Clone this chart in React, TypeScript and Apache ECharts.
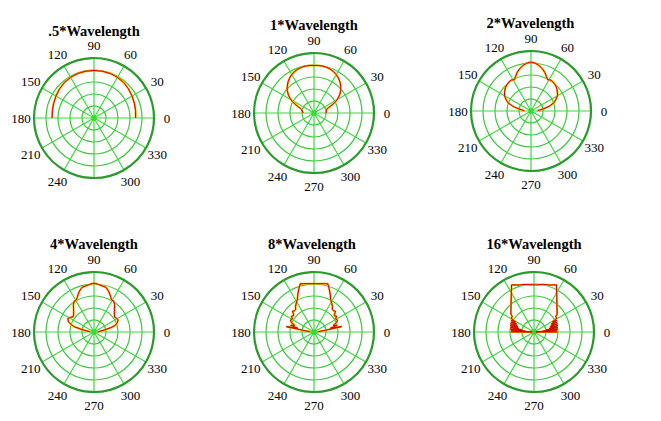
import React, { useEffect, useRef } from "react";
import * as echarts from "echarts";

// ---- data ----
const titles = [".5*Wavelength", "1*Wavelength", "2*Wavelength", "4*Wavelength", "8*Wavelength", "16*Wavelength"];
const angleTicks = [0, 30, 60, 90, 120, 150, 180, 210, 240, 270, 300, 330];
const radiusTicks = [0, 1, 2, 3, 4, 5];

// 0.5 wavelength
const angA = [0, 10, 20, 30, 40, 50, 60, 70, 80, 90, 100, 110, 120, 130, 140, 150, 160, 170, 180];
const radA = [3.47, 3.52, 3.58, 3.66, 3.76, 3.85, 3.91, 3.95, 3.96, 3.96, 3.96, 3.95, 3.91, 3.85, 3.76, 3.66, 3.58, 3.52, 3.5];

// 1 wavelength
const angB = [0, 5, 10, 15, 19, 22, 25, 28, 31, 35, 40, 45, 50, 55, 60, 65, 70, 75, 80, 85, 90,
  95, 100, 105, 110, 115, 120, 125, 130, 135, 140, 145, 149, 152, 155, 158, 161, 165, 170, 175, 180];
const radB = [1.0, 1.02, 1.05, 1.1, 1.2, 1.45, 1.75, 2.05, 2.3, 2.6, 2.92, 3.15, 3.37, 3.55, 3.7, 3.82, 3.9, 3.95, 3.98, 3.97, 3.96,
  3.97, 3.98, 3.95, 3.9, 3.82, 3.7, 3.55, 3.37, 3.15, 2.92, 2.6, 2.3, 2.05, 1.75, 1.45, 1.2, 1.05, 1.0, 0.95, 0.9];

// 2 wavelengths
const angC = [0, 4, 8, 12, 15, 20, 25, 30, 36, 42, 48, 54, 58, 62, 66, 70, 75, 80, 85, 90,
  95, 100, 105, 110, 114, 118, 122, 126, 132, 138, 144, 150, 155, 160, 165, 168, 172, 176, 180];
const radC = [0.55, 0.6, 0.85, 1.25, 1.6, 2.05, 2.3, 2.55, 2.72, 2.88, 2.98, 3.05, 3.05, 2.95, 3.15, 3.4, 3.65, 3.85, 4.0, 4.08,
  4.0, 3.85, 3.65, 3.4, 3.15, 2.95, 3.05, 3.05, 2.98, 2.88, 2.72, 2.55, 2.3, 2.05, 1.6, 1.25, 0.85, 0.6, 0.55];

// 4 wavelengths
const angD = [0, 5, 9, 12, 15, 18, 22, 27, 31, 36, 41, 45, 49, 53, 57, 61, 64, 67, 71, 75, 80, 85, 88, 90,
  92, 95, 100, 105, 109, 113, 116, 119, 123, 127, 131, 135, 139, 144, 149, 153, 158, 162, 165, 168, 171, 175, 180];
const radD = [0.3, 0.4, 0.6, 1.0, 1.55, 1.9, 2.1, 2.25, 2.2, 2.12, 2.25, 2.4, 2.6, 2.85, 3.05, 3.05, 3.2, 3.4, 3.65, 3.85, 3.9, 3.98, 4.05, 4.05,
  4.05, 3.98, 3.9, 3.85, 3.65, 3.4, 3.2, 3.05, 3.05, 2.85, 2.6, 2.4, 2.25, 2.15, 2.35, 2.45, 2.3, 2.0, 1.7, 1.1, 0.65, 0.4, 0.3];

// 8 wavelengths
const angE = [0, 5, 9, 11, 13, 16, 19, 23, 27, 31, 35, 38, 41, 44, 47, 51, 54, 58, 63, 67, 71, 74, 78, 82, 86, 90,
  94, 98, 102, 106, 109, 113, 117, 122, 126, 129, 133, 136, 139, 142, 145, 149, 153, 157, 161, 164, 167, 169, 171, 175, 180];
const radE = [0.3, 0.4, 1.0, 2.35, 1.4, 2.0, 1.7, 2.05, 2.2, 2.1, 2.3, 2.18, 2.25, 2.5, 2.4, 2.43, 2.62, 2.8, 3.05, 3.45, 3.85, 4.18, 4.12, 4.07, 4.04, 4.03,
  4.04, 4.07, 4.12, 4.18, 3.85, 3.45, 3.05, 2.8, 2.62, 2.43, 2.4, 2.5, 2.25, 2.18, 2.3, 2.1, 2.2, 2.05, 1.7, 2.0, 1.4, 2.35, 1.0, 0.4, 0.3];

// 16 wavelengths
const angF = [0, 1, 3, 5, 7, 9, 11, 13, 15, 17, 19, 21, 23, 25, 27, 29, 31, 35, 38, 64.5, 72, 80, 85, 90,
  95, 100, 108, 115.5, 142, 145, 149, 151, 153, 155, 157, 159, 161, 163, 165, 167, 169, 171, 173, 175, 177, 179, 180];
const radF = [1.95, 0.15, 1.9, 0.7, 2.0, 1.0, 2.0, 1.3, 2.05, 1.4, 2.08, 1.5, 2.1, 1.6, 2.15, 1.75, 2.24, 2.2, 2.45, 4.35, 4.12, 4.03, 3.95, 3.93,
  3.95, 4.03, 4.12, 4.35, 2.45, 2.2, 2.24, 1.75, 2.15, 1.6, 2.1, 1.5, 2.08, 1.4, 2.05, 1.3, 2.0, 1.0, 2.0, 0.7, 1.9, 0.15, 1.95];

const patternAngles = [angA, angB, angC, angD, angE, angF];
const patternRadii = [radA, radB, radC, radD, radE, radF];

// ---- layout ----
const centers: [number, number][] = [[94, 118], [314, 113], [531, 111], [94, 332], [314, 332], [534, 332]];
const titleY = [30.5, 25, 22.5, 243.5, 243.5, 243.5];
const titleX = [94, 314, 530.5, 94, 312, 534];
const R = 60;
const LABEL_R = 73;

export default function App() {
  const ref = useRef<HTMLDivElement>(null);
  useEffect(() => {
    if (!ref.current) return;
    const chart = echarts.init(ref.current, undefined, { renderer: "svg" });

    const polar = centers.map((c) => ({ center: c, radius: R }));
    const angleAxis = centers.map((_, i) => ({
      polarIndex: i,
      type: "value",
      min: 0,
      max: 360,
      interval: 30,
      startAngle: 0,
      clockwise: false,
      axisLine: { show: true, lineStyle: { color: "#2b9b2b", width: 2.2 } },
      axisTick: { show: false },
      axisLabel: { show: false },
      splitLine: { show: true, lineStyle: { color: "#3fd83f", width: 1.2 } },
    }));
    const radiusAxis = centers.map((_, i) => ({
      polarIndex: i,
      type: "value",
      min: radiusTicks[0],
      max: radiusTicks[radiusTicks.length - 1],
      interval: 1,
      axisLine: { show: false },
      axisTick: { show: false },
      axisLabel: { show: false },
      splitLine: { show: true, lineStyle: { color: "#3cc83c", width: 1.2 } },
    }));

    const series: any[] = [];
    patternAngles.forEach((angs, i) => {
      const data = angs.map((a, k) => [patternRadii[i][k], a]);
      series.push({
        type: "line",
        coordinateSystem: "polar",
        polarIndex: i,
        data,
        showSymbol: false,
        symbol: "none",
        lineStyle: { color: "#ffaa00", width: 2 },
        z: 3,
      });
      series.push({
        type: "line",
        coordinateSystem: "polar",
        polarIndex: i,
        data,
        showSymbol: false,
        symbol: "none",
        lineStyle: { color: "#d00000", width: 1 },
        z: 4,
      });
    });

    const graphic: any[] = [];
    centers.forEach((c, i) => {
      graphic.push({
        type: "circle",
        shape: { cx: c[0], cy: c[1], r: 2.5 },
        style: { fill: "#33dd33" },
        z: 2,
      });
      graphic.push({
        type: "text",
        x: titleX[i],
        y: titleY[i],
        style: {
          text: titles[i],
          font: 'bold 14.5px "Liberation Serif"',
          fill: "#000",
          align: "center",
          verticalAlign: "middle",
        },
      });
      angleTicks.forEach((t) => {
        if (i === 0 && t === 270) return;
        const rad = (t * Math.PI) / 180;
        graphic.push({
          type: "text",
          x: c[0] + LABEL_R * Math.cos(rad),
          y: c[1] - LABEL_R * Math.sin(rad),
          style: {
            text: String(t),
            font: '13px "Liberation Serif"',
            fill: "#000",
            align: "center",
            verticalAlign: "middle",
          },
        });
      });
    });

    chart.setOption({
      animation: false,
      backgroundColor: "#fff",
      polar,
      angleAxis,
      radiusAxis,
      series,
      graphic,
    });
    return () => chart.dispose();
  }, []);

  return (
    <div
      ref={ref}
      style={{ position: "fixed", left: 0, top: 0, width: 661, height: 421, background: "#fff" }}
    />
  );
}
